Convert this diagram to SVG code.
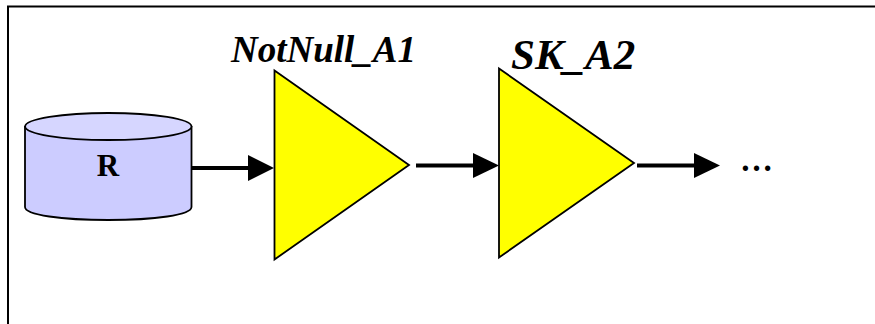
<svg xmlns="http://www.w3.org/2000/svg" width="875" height="324" viewBox="0 0 875 324">
<style>
.tri{fill:#ffff00;stroke:#000;stroke-width:1.8;stroke-linejoin:miter}
.lab{font-family:"Liberation Serif","Times New Roman",serif;font-weight:bold;font-style:italic;fill:#000}
.con{stroke:#000;stroke-width:4;fill:none}
.head{fill:#000}
</style>
<rect width="875" height="324" fill="#fff"/>
<path id="frame" d="M875 6.500H8V324" fill="none" stroke="#000" stroke-width="2"/>
<g id="node-R">
<path d="M25 127V207C25 215 62 220 108.300 220S191.500 215 191.500 207V127Z" fill="#ccccff" stroke="#000" stroke-width="1.800"/>
<ellipse cx="108.300" cy="126.500" rx="83.200" ry="13.500" fill="#d6d6ff" stroke="#000" stroke-width="1.800"/>
<text x="108" y="176" text-anchor="middle" font-family="'Liberation Serif','Times New Roman',serif" font-weight="bold" font-size="31" fill="#000">R</text>
</g>
<g id="node-NotNull_A1">
<polygon class="tri" points="274.500,70.500 409,165 274.500,259.500"/>
<text class="lab" x="231" y="62" font-size="37">NotNull_A1</text>
</g>
<g id="node-SK_A2">
<polygon class="tri" points="499,68.500 634,163 499,257.500"/>
<text class="lab" x="511" y="69" font-size="43">SK_A2</text>
</g>
<g id="connectors">
<line class="con" x1="191" y1="168" x2="250" y2="168"/>
<polygon class="head" points="248,155 274,168 248,181"/>
<line class="con" x1="416" y1="165.500" x2="475" y2="165.500"/>
<polygon class="head" points="473,153 499,165.500 473,178"/>
<line class="con" x1="637" y1="165.500" x2="696" y2="165.500"/>
<polygon class="head" points="694,153 720,165.500 694,178"/>
</g>
<text id="ellipsis" x="740" y="171" font-family="'Liberation Serif','Times New Roman',serif" font-size="33" font-weight="bold" fill="#000">…</text>
</svg>
